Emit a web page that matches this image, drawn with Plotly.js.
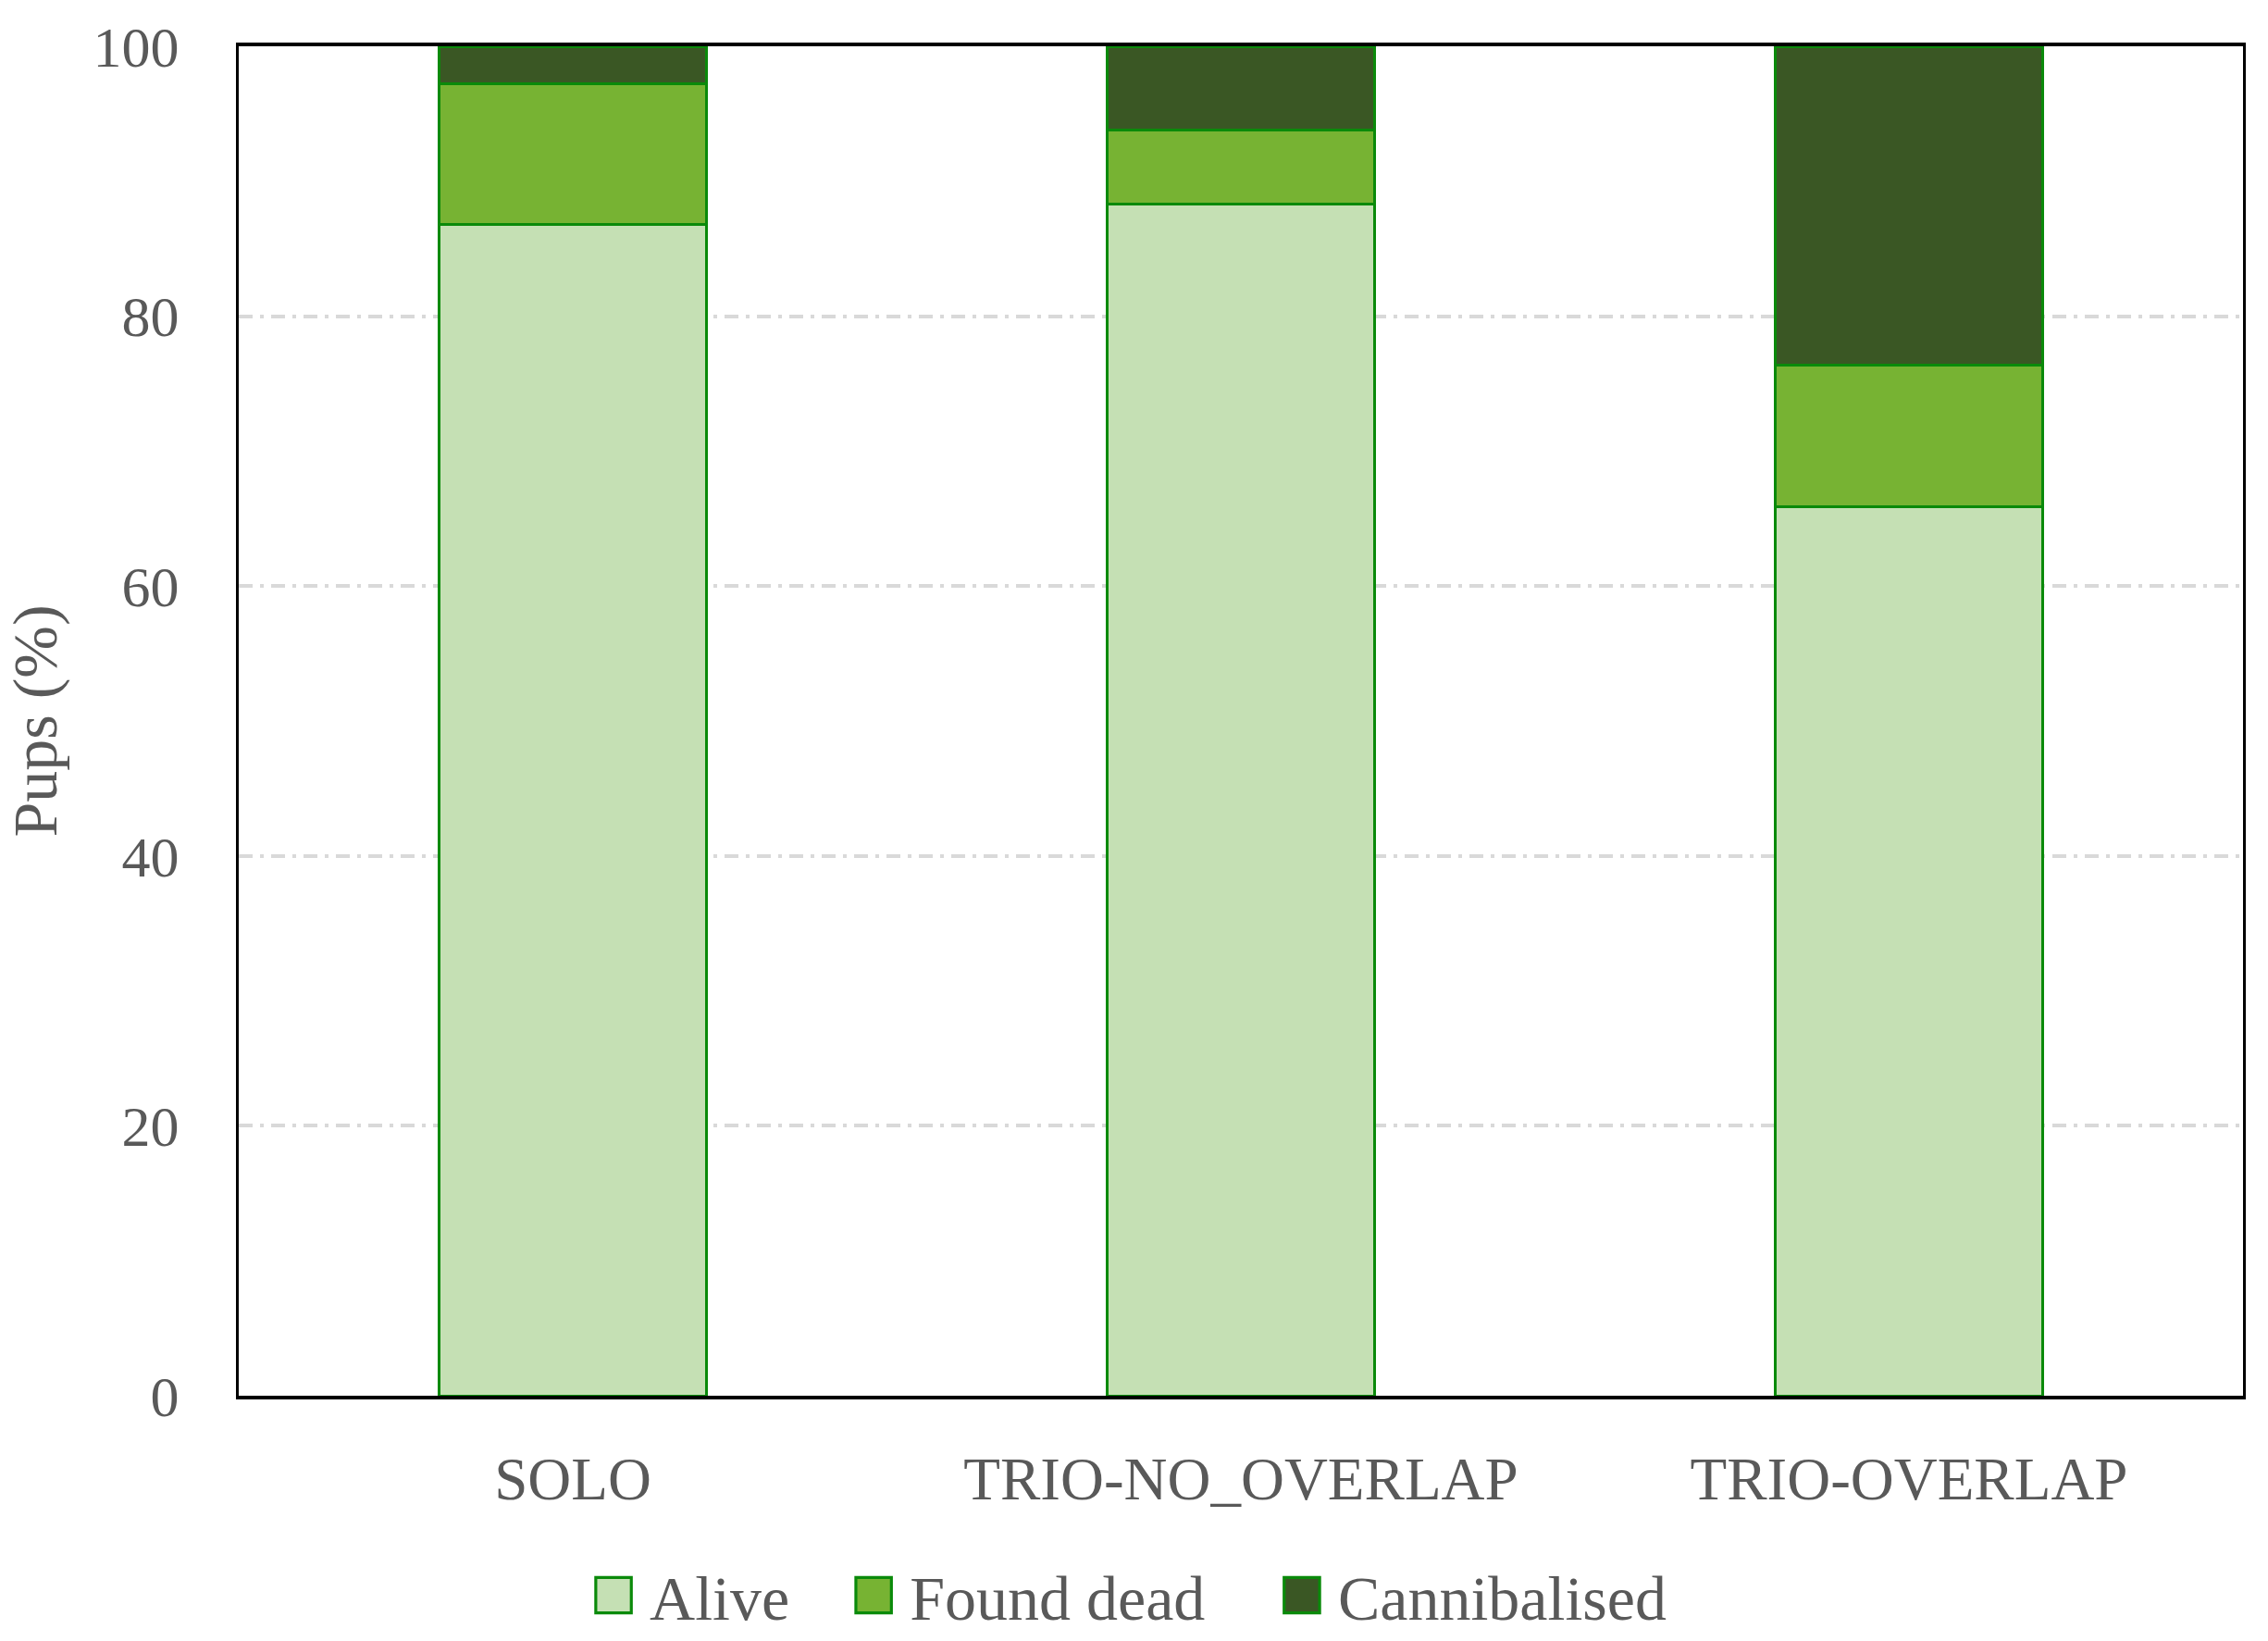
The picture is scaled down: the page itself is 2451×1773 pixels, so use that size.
<!DOCTYPE html>
<html>
<head>
<meta charset="utf-8">
<script src="https://cdn.plot.ly/plotly-3.0.1.min.js"></script>
<style>html,body{margin:0;padding:0;background:#fff;}#chart{width:2451px;height:1773px;}</style>
</head>
<body>
<div id="chart"></div>
<script>
const categories = ["SOLO", "TRIO-NO_OVERLAP", "TRIO-OVERLAP"];
const alive = [86.8, 88.3, 65.9];
const foundDead = [10.4, 5.5, 10.5];
const cannibalised = [2.8, 6.2, 23.6];
const yTicks = [0, 20, 40, 60, 80, 100];
const seriesNames = ["Alive", "Found dead", "Cannibalised"];

const pad = "\u00a0\u00a0\u00a0\u00a0\u00a0";
const outline = {color: "#0a8a0a", width: 3};
const fam = "Liberation Serif, DejaVu Serif, serif";
const grey = "#595959";

const traces = [
  {type: "bar", name: seriesNames[0] + pad, x: categories, y: alive, marker: {color: "#c5e0b4", line: outline}, width: 0.4},
  {type: "bar", name: seriesNames[1] + pad + "\u2009", x: categories, y: foundDead, marker: {color: "#77b333", line: outline}, width: 0.4},
  {type: "bar", name: seriesNames[2] + "\u00a0\u00a0", x: categories, y: cannibalised, marker: {color: "#3a5724", line: outline}, width: 0.4}
];

const layout = {
  width: 2451, height: 1773,
  margin: {l: 258, r: 27, t: 50, b: 265, autoexpand: false},
  barmode: "stack",
  paper_bgcolor: "#fff", plot_bgcolor: "#fff",
  font: {family: fam, color: grey, size: 62},
  showlegend: true,
  legend: {orientation: "h", x: 0.175, xanchor: "left", y: -0.148, yanchor: "middle",
           font: {family: fam, color: grey, size: 68}, traceorder: "normal",
           itemwidth: 30, tracegroupgap: 0, bgcolor: "rgba(0,0,0,0)"},
  xaxis: {
    type: "category", range: [-0.5, 2.5],
    showline: true, linecolor: "#000", linewidth: 4, mirror: true,
    ticks: "outside", ticklen: 30, tickcolor: "rgba(0,0,0,0)",
    showgrid: false, tickfont: {size: 65, color: grey, family: fam}
  },
  yaxis: {
    range: [0, 100], tickvals: yTicks, ticktext: yTicks.map(String),
    showline: true, linecolor: "#000", linewidth: 3, mirror: true,
    ticks: "outside", ticklen: 49, tickcolor: "rgba(0,0,0,0)",
    showgrid: true, gridcolor: "#d9d9d9", gridwidth: 4, griddash: "15px,8px,4px,8px",
    zeroline: false,
    tickfont: {size: 62, color: grey, family: fam},
    title: {text: "Pups (%)", font: {size: 68, color: grey, family: fam}, standoff: 18}
  }
};

Plotly.newPlot("chart", traces, layout, {displayModeBar: false, staticPlot: true}).then(function(gd){
  gd.querySelectorAll(".legend .legendpoints path").forEach(function(p){
    p.setAttribute("transform", "translate(26,0) scale(3.2)");
    p.style.strokeWidth = "1px";
  });
  gd.querySelectorAll(".legend .legendtext").forEach(function(t){
    t.setAttribute("transform", "translate(25,0)");
  });
});
</script>
</body>
</html>
